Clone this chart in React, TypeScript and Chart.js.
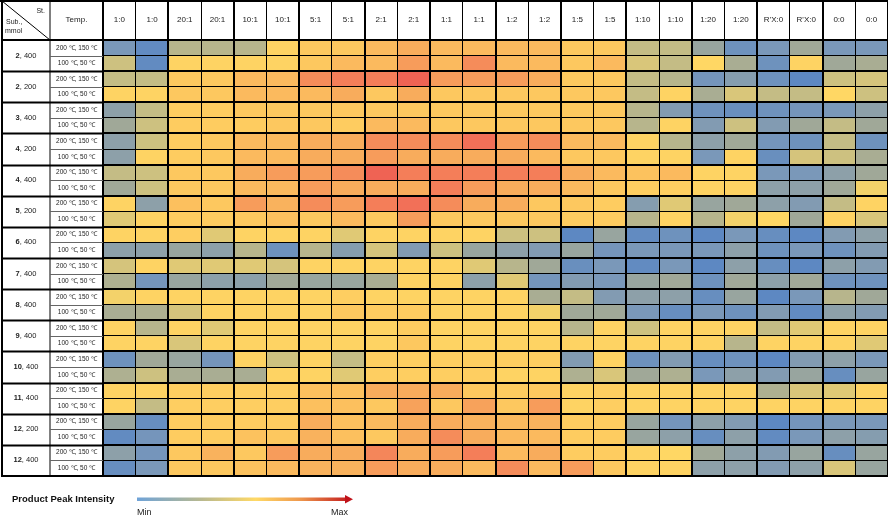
import React, { useEffect, useRef } from "react";
import { Chart, registerables } from "chart.js";
Chart.register(...registerables);

const FONT = "'Liberation Sans', Arial, sans-serif";

const columns = ["1:0","1:0","20:1","20:1","10:1","10:1","5:1","5:1","2:1","2:1","1:1","1:1","1:2","1:2","1:5","1:5","1:10","1:10","1:20","1:20","R'X:0","R'X:0","0:0","0:0"];
const groupNum = ["2","2","3","4","4","5","6","7","8","9","10","11","12","12"];
const groupAmt = ["400","200","400","200","400","200","400","400","400","400","400","400","200","400"];
const temps = ["200 \u2103, 150 \u2103", "100 \u2103, 50 \u2103"];

// Product peak intensity, 0 (min) .. 10 (max), one row per (sub, temp)
const intensity: number[][] = [
  [2, 1, 3.5, 3.5, 3.5, 5.5, 6, 6, 6.5, 7, 6.5, 6.5, 6.5, 6.5, 6, 6, 3.8, 3.8, 2.8, 1.5, 2, 3, 2, 2],
  [4, 1, 5.5, 5.5, 5.5, 5.5, 6, 6.5, 6.5, 7.5, 6.5, 8, 6.5, 6.5, 6, 6.5, 4.3, 3.8, 5.3, 3.2, 1.5, 5.5, 3, 3.2],
  [3.8, 3.8, 6, 6, 6.5, 6.5, 8, 8.5, 8.5, 9.5, 7.5, 7.5, 7.5, 7, 6, 6, 3.8, 3.5, 1.8, 2.3, 1.5, 0.8, 4, 4.2],
  [5.5, 5.5, 6, 6, 6.5, 6.5, 6.5, 7, 6, 7, 6, 6, 6, 6, 6, 6, 3.8, 5.5, 3.2, 4.3, 3.8, 3.8, 5.3, 4],
  [2.5, 3.8, 5.8, 5.8, 6, 6, 6, 6, 6, 6, 6, 6, 6, 6, 6, 6, 3.5, 2.2, 1.5, 1.3, 1.5, 1.8, 2, 2.5],
  [3, 4, 5.8, 5.8, 5.8, 6, 6, 5.8, 6.5, 6.5, 6, 6, 6, 6, 6, 6, 3.5, 5.5, 2.2, 4, 2.2, 3, 3.8, 3],
  [2.5, 4, 5.8, 6, 6.5, 6.5, 7, 7, 8, 8, 8, 9, 7.5, 8, 6.5, 6.5, 5.5, 3.5, 2.5, 3, 1.8, 1.5, 3.8, 1.5],
  [2.5, 5.5, 5.8, 6, 6.5, 6.5, 7, 7, 7.5, 7, 7, 7, 7, 6.5, 6, 6, 5.5, 5.5, 2, 5.5, 1.3, 4.2, 4, 3.2],
  [3.8, 4, 6, 6, 7, 7.5, 7.5, 8, 9.5, 8.5, 8.5, 8.5, 8.5, 8.5, 7, 6.5, 6.2, 6.5, 5.5, 5.5, 2, 2, 2.5, 3],
  [3, 4, 6, 6, 6.5, 6.5, 7.5, 7, 7, 7, 8.5, 7.5, 7, 7, 6.5, 6, 5.7, 5.7, 5.5, 5.5, 2.5, 2.5, 3, 5],
  [5.5, 2.5, 6.3, 6, 7.5, 6.8, 8, 7.5, 8.5, 9, 8, 7, 7, 6, 6, 5.8, 2.3, 4.5, 2.8, 3, 2.5, 2.2, 3.8, 5.5],
  [4.5, 5.5, 5.8, 5.8, 6, 6.3, 6, 6.5, 6, 7.5, 6, 6, 6, 6, 5.8, 5.8, 3.5, 5.5, 3.5, 5, 5.3, 3, 5.5, 4.3],
  [5.5, 5.5, 5.7, 4.5, 5.5, 5.5, 5.5, 4.5, 5.5, 5.5, 5.5, 5.5, 4, 4, 0.8, 2.8, 1, 1.5, 0.8, 2, 1.2, 0.8, 2.2, 2.5],
  [2.5, 2.5, 2.8, 2.5, 3.5, 1.5, 3.5, 2.3, 4.2, 2.2, 4, 2.8, 2.5, 2.2, 2.8, 1.8, 2, 2, 2, 2.5, 1.5, 2, 1.5, 2.2],
  [4.2, 5.5, 4.5, 4.5, 4.5, 4.2, 5.5, 5.5, 5.5, 5.5, 5.5, 4.5, 3.5, 3, 1.3, 2, 1, 2, 0.8, 2.5, 1.2, 0.8, 2.5, 2.2],
  [3.3, 1.8, 2.8, 2.5, 2.5, 3, 2.8, 2.8, 3.2, 5.5, 5.5, 2.5, 4.5, 1.8, 2.2, 2, 2.8, 3, 1.5, 3, 2.5, 3, 1.5, 1.5],
  [5, 5.5, 5.5, 5.5, 5.5, 5.5, 5.5, 5.7, 5.5, 5.5, 5.5, 5.5, 5.5, 3.2, 3.8, 2.2, 2.5, 2.5, 1.2, 2.8, 0.8, 2, 3.5, 3],
  [3.2, 3.3, 4.2, 5.5, 5.5, 5.5, 5.5, 6, 5.8, 5.8, 5.5, 5.5, 5.5, 5, 3, 3, 2, 1.2, 2, 1.5, 2.2, 1, 2.5, 2.2],
  [5.5, 3.5, 5.5, 4.5, 5.5, 5.5, 5.5, 5.5, 5.5, 5.8, 5.5, 5.5, 5.5, 5.5, 3.5, 5.5, 4, 5.5, 5.5, 5.5, 3.8, 4.5, 5.5, 5.5],
  [5.5, 5.5, 4.3, 5.5, 5.5, 5.5, 5.5, 5.5, 5.5, 6, 5.5, 5.5, 5.5, 5.5, 5.5, 5.5, 5.5, 5.5, 5.5, 3.5, 5.5, 5.5, 5.5, 4.5],
  [1.5, 3, 2.8, 1.8, 5.5, 4, 5.5, 3.8, 5.7, 5.7, 5.7, 5.7, 5.7, 5.7, 2.2, 5.5, 1.5, 2.2, 1.2, 1.5, 0.8, 2.2, 2.5, 2],
  [3.3, 4, 3.2, 3.2, 3.2, 5.5, 5.5, 4.5, 5.7, 5.7, 5.7, 5.7, 5.5, 5.5, 3.3, 4.3, 3, 3.3, 2, 2.5, 2.2, 2.8, 1.2, 2.8],
  [5.5, 5.5, 5.7, 5.7, 5.7, 5.7, 6.3, 6.3, 7, 7, 7, 6, 5.8, 6, 5.5, 5.7, 5.5, 5.5, 5.5, 5.5, 3.3, 4.3, 4.5, 5.5],
  [5.5, 3.8, 5.7, 5.7, 5.7, 5.7, 6.3, 6.3, 6, 7.3, 6, 7.3, 6, 7.5, 5.5, 5.7, 5.5, 5.5, 5.5, 5.5, 5.5, 5.5, 5.5, 5.5],
  [2.8, 1.2, 5.8, 5.8, 5.8, 5.8, 7, 6.3, 6.5, 7, 7, 6.8, 6.5, 6.8, 5.8, 5.8, 2.8, 1.8, 2.5, 2.2, 0.8, 1.8, 2, 2],
  [1, 1.8, 5.8, 5.8, 6.2, 6, 6.8, 6.3, 6, 7, 8, 7, 6.5, 6.5, 5.8, 5.8, 2.8, 2.5, 1.2, 2.5, 1, 2, 2.5, 2.3],
  [2.5, 1.8, 6, 6.8, 6, 7.5, 7, 7, 8.2, 7, 7.5, 8.5, 6.5, 7, 5.8, 5.8, 5.5, 5.3, 3, 2.5, 2.2, 2.8, 1.2, 2.8],
  [1.2, 2, 6, 6, 6.2, 6.5, 6.8, 6.8, 7.5, 7, 7, 6.5, 8, 6.5, 7.5, 6, 5.5, 5.5, 2.5, 2.5, 2.2, 2.5, 4.3, 2.8],
];

const colorStops: [number, number[]][] = [
  [0, [74, 126, 200]],
  [2, [122, 152, 185]],
  [3, [160, 168, 152]],
  [4, [205, 193, 128]],
  [5.3, [255, 215, 100]],
  [6, [253, 200, 95]],
  [7, [248, 172, 92]],
  [8, [245, 140, 90]],
  [9, [242, 112, 88]],
  [10, [235, 85, 80]],
];

function colorFor(v: number): string {
  for (let i = 0; i < colorStops.length - 1; i++) {
    const [a, ca] = colorStops[i];
    const [b, cb] = colorStops[i + 1];
    if (v <= b || i === colorStops.length - 2) {
      const t = Math.max(0, Math.min(1, (v - a) / (b - a)));
      const c = ca.map((x, k) => Math.round(x + (cb[k] - x) * t));
      return `rgb(${c[0]},${c[1]},${c[2]})`;
    }
  }
  return "#000";
}

const tablePlugin = {
  id: "tableFrame",
  afterDraw(chart: any) {
    const { ctx, chartArea } = chart;
    const ys = chart.scales.y;
    const L = 2, M = 50, R = chartArea.left;
    const line = (x1: number, y1: number, x2: number, y2: number, w: number, c = "#000") => {
      ctx.beginPath();
      ctx.strokeStyle = c;
      ctx.lineWidth = w;
      ctx.moveTo(x1, y1);
      ctx.lineTo(x2, y2);
      ctx.stroke();
    };
    ctx.save();
    line(0, 1, chart.width, 1, 2);
    line(L, 0, L, chartArea.bottom + 1, 2);
    line(M, 0, M, chartArea.bottom, 1);
    line(L, chartArea.top, R, chartArea.top, 2);
    for (let r = 1; r < 28; r++) {
      const py = Math.round(ys.getPixelForValue(r)) + 0.5;
      if (r % 2 === 0) line(L, py, R, py, 2);
      else line(M, py, R, py, 1, "#666");
    }
    line(L, chartArea.bottom, R, chartArea.bottom, 2);
    line(L, 1, M, chartArea.top, 1);

    ctx.fillStyle = "#222";
    ctx.textBaseline = "middle";
    ctx.font = `7px ${FONT}`;
    ctx.textAlign = "right";
    ctx.fillText("St.", 45, 11);
    ctx.textAlign = "left";
    ctx.fillText("Sub.,", 6, 22);
    ctx.fillText("mmol", 5, 31);
    ctx.textAlign = "center";
    ctx.font = `8px ${FONT}`;
    ctx.fillText("Temp.", (M + R) / 2, 20);

    for (let g = 0; g < groupNum.length; g++) {
      const cy = ys.getPixelForValue(g * 2 + 1);
      ctx.font = `bold 7.5px ${FONT}`;
      const bw = ctx.measureText(groupNum[g]).width;
      ctx.font = `7.5px ${FONT}`;
      const rest = ", " + groupAmt[g];
      const rw = ctx.measureText(rest).width;
      const x0 = (L + M) / 2 - (bw + rw) / 2;
      ctx.textAlign = "left";
      ctx.font = `bold 7.5px ${FONT}`;
      ctx.fillText(groupNum[g], x0, cy);
      ctx.font = `7.5px ${FONT}`;
      ctx.fillText(rest, x0 + bw, cy);
      ctx.textAlign = "center";
      ctx.font = `6.5px ${FONT}`;
      for (let t = 0; t < 2; t++) {
        const ty = ys.getPixelForValue(g * 2 + t + 0.5);
        ctx.fillText(temps[t], (M + R) / 2, ty);
      }
    }

    // legend
    ctx.textAlign = "left";
    ctx.fillStyle = "#111";
    ctx.font = `bold 9.5px ${FONT}`;
    ctx.fillText("Product Peak Intensity", 12, 499);
    const gx1 = 137, gx2 = 345;
    const grad = ctx.createLinearGradient(gx1, 0, gx2 + 8, 0);
    grad.addColorStop(0, "#6fa3d8");
    grad.addColorStop(0.3, "#b9b98f");
    grad.addColorStop(0.55, "#ffd966");
    grad.addColorStop(0.75, "#ef9a4e");
    grad.addColorStop(1, "#c0121a");
    ctx.fillStyle = grad;
    ctx.fillRect(gx1, 497.5, gx2 - gx1, 3.5);
    ctx.beginPath();
    ctx.moveTo(gx2, 495);
    ctx.lineTo(gx2 + 8, 499.2);
    ctx.lineTo(gx2, 503.5);
    ctx.closePath();
    ctx.fillStyle = "#c0121a";
    ctx.fill();
    ctx.fillStyle = "#222";
    ctx.font = `9px ${FONT}`;
    ctx.fillText("Min", 137, 513);
    ctx.textAlign = "right";
    ctx.fillText("Max", 348, 513);
    ctx.restore();
  },
};

export default function App() {
  const ref = useRef<HTMLCanvasElement>(null);
  useEffect(() => {
    document.body.style.margin = "0";
    const datasets = intensity.map((row, r) => ({
      label: `row${r}`,
      data: row.map(() => [r, r + 1]),
      backgroundColor: row.map((v) => colorFor(v)),
      borderWidth: 0,
      grouped: false,
      barPercentage: 1,
      categoryPercentage: 1,
    }));
    const chart = new Chart(ref.current!, {
      type: "bar",
      data: { labels: columns, datasets: datasets as any },
      options: {
        responsive: false,
        animation: false,
        layout: { padding: { left: 0, top: 0, right: 0, bottom: 43 } },
        plugins: { legend: { display: false }, tooltip: { enabled: false } },
        scales: {
          x: {
            type: "category",
            position: "top",
            offset: true,
            grid: {
              offset: true,
              z: 1,
              color: "#000",
              lineWidth: (c: any) => (c.index % 2 === 0 ? 2 : 1),
              tickLength: 40,
            },
            border: { display: true, color: "#000", width: 2, z: 2 },
            ticks: {
              autoSkip: false,
              maxRotation: 0,
              padding: -25,
              color: "#222",
              font: { family: FONT, size: 8 },
            },
            afterFit: (s: any) => {
              s.height = 40;
            },
          },
          y: {
            type: "linear",
            min: 0,
            max: 28,
            reverse: true,
            ticks: { display: false, stepSize: 1 },
            grid: {
              z: 1,
              color: "#000",
              lineWidth: (c: any) => (c.tick && Math.round(c.tick.value) % 2 === 0 ? 2 : 1),
              drawTicks: false,
            },
            border: { display: true, color: "#000", width: 2, z: 2 },
            afterFit: (s: any) => {
              s.width = 103;
            },
          },
        },
      },
      plugins: [tablePlugin],
    });
    return () => chart.destroy();
  }, []);
  return (
    <div style={{ width: 888, height: 519, background: "#fff" }}>
      <canvas ref={ref} width={888} height={519} />
    </div>
  );
}
